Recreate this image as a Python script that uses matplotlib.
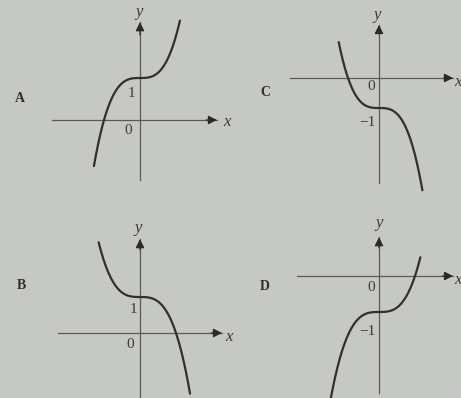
import matplotlib
matplotlib.use("Agg")
import matplotlib.pyplot as plt
import numpy as np

plt.rcParams['font.family'] = ['Liberation Serif', 'DejaVu Serif']

W, H = 461, 398

# four sketches: y = sign * x^3 + shift
names = ['A', 'B', 'C', 'D']
signs = [1, -1, -1, 1]
shifts = [1, 1, -1, -1]
x_start = [-1.28, -1.15, -1.30, -1.40]
x_end = [1.11, 1.39, 1.40, 1.15]
tick_text = ['1', '1', '\u22121', '\u22121']

# where each origin sits on the page (px) and how many px per unit
origin_px = [(140, 120), (140, 333), (379, 78), (379, 276)]
unit_px = [(36, 42), (36, 36), (31, 30), (36, 36)]

# axis extents in units: (x_left, x_right, y_bottom, y_top)
axis_span = [(-2.44, 2.14, -1.43, 2.33),
             (-2.28, 2.28, -1.80, 2.61),
             (-2.87, 2.39, -3.50, 1.77),
             (-2.28, 2.06, -3.25, 1.08)]

# label spots in units: letter, tick, zero, y, x
letter_pos = [(-3.33, 0.52), (-3.28, 1.33), (-3.68, -0.50), (-3.17, -0.28)]
tick_pos = [(-0.25, 0.64), (-0.19, 0.64), (-0.39, -1.50), (-0.33, -1.53)]
zero_pos = [(-0.33, -0.24), (-0.28, -0.33), (-0.26, -0.30), (-0.22, -0.31)]
ylab_pos = [(-0.03, 2.57), (-0.06, 2.92), (-0.06, 2.10), (0.0, 1.47)]
xlab_pos = [(2.30, -0.05), (2.36, -0.11), (2.42, -0.12), (2.08, -0.10)]

bg = '#c6c9c3'
curve_col = '#303030'
axis_col = '#5a5a5a'

fig = plt.figure(figsize=(W / 100, H / 100), dpi=100, facecolor=bg)

for i in range(4):
    ox, oy = origin_px[i]
    ux, uy = unit_px[i]
    ax = fig.add_axes([0, 0, 1, 1])
    ax.set_xlim(-ox / ux, (W - ox) / ux)
    ax.set_ylim((oy - H) / uy, oy / uy)
    ax.axis('off')
    ax.patch.set_alpha(0)

    xl, xr, yb, yt = axis_span[i]
    ax.plot([xl, xr], [0, 0], color=axis_col, lw=0.9)
    ax.plot([0, 0], [yb, yt], color=axis_col, lw=0.9)
    ax.annotate('', xy=(xr, 0), xytext=(xr - 0.3, 0),
                arrowprops=dict(arrowstyle='-|>', color='#2a2a2a', lw=0.9,
                                mutation_scale=13, shrinkA=0, shrinkB=0))
    ax.annotate('', xy=(0, yt), xytext=(0, yt - 0.3),
                arrowprops=dict(arrowstyle='-|>', color='#2a2a2a', lw=0.9,
                                mutation_scale=13, shrinkA=0, shrinkB=0))

    x = np.linspace(x_start[i], x_end[i], 200)
    ax.plot(x, signs[i] * x ** 3 + shifts[i], color=curve_col, lw=1.6,
            solid_capstyle='round')

    ax.text(*letter_pos[i], names[i], fontsize=10, fontweight='bold',
            color='#2e2e2e', ha='center', va='center')
    ax.text(*tick_pos[i], tick_text[i], fontsize=11, color='#3a3a3a',
            ha='center', va='center')
    ax.text(*zero_pos[i], '0', fontsize=11, color='#3a3a3a',
            ha='center', va='center')
    ax.text(*ylab_pos[i], 'y', fontsize=12, style='italic', color='#3a3a3a',
            ha='center', va='center')
    ax.text(*xlab_pos[i], 'x', fontsize=12, style='italic', color='#3a3a3a',
            ha='left', va='center')

fig.savefig('out.png', dpi=100, facecolor=bg)
